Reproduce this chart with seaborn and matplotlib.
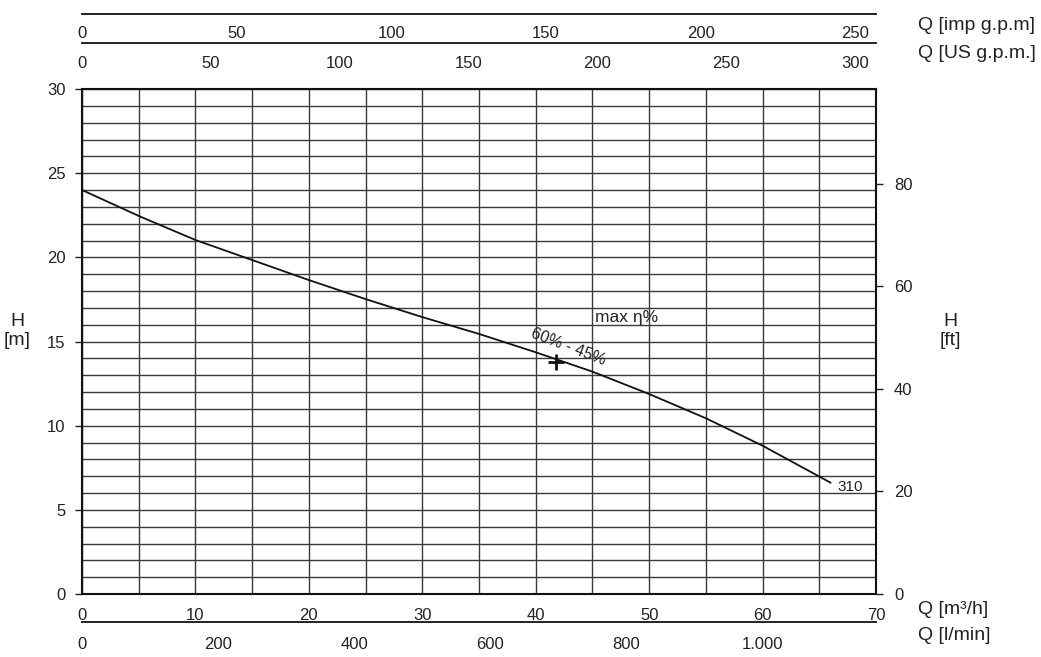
import numpy as np
import pandas as pd
import matplotlib
matplotlib.use("Agg")
import matplotlib.pyplot as plt
import seaborn as sns
from matplotlib.ticker import MultipleLocator, FuncFormatter

# Curva H-Q
q_m3h = [0, 5, 10, 15, 20, 25, 30, 35, 40, 45, 50, 55, 60, 66]
h_m = [24.0, 22.46, 21.03, 19.84, 18.65, 17.52, 16.45, 15.45, 14.36, 13.21, 11.88, 10.44, 8.81, 6.61]

# Punto de maximo rendimiento
bep_q = 41.8
bep_h = 13.8

# Conversiones
M3H_A_IMP = 3.6662
M3H_A_US = 4.4029
M3H_A_LMIN = 16.6667
M_A_FT = 3.2808

ticks_imp = [0, 50, 100, 150, 200, 250]
ticks_us = [0, 50, 100, 150, 200, 250, 300]
ticks_lmin = [0, 200, 400, 600, 800, 1000]
ticks_ft = [0, 20, 40, 60, 80]

df = pd.DataFrame({"Q": q_m3h, "H": h_m})

sns.set_style("white")
plt.rcParams["font.family"] = ["Liberation Sans", "DejaVu Sans"]
plt.rcParams["text.color"] = "#222222"
plt.rcParams["xtick.color"] = "#222222"
plt.rcParams["ytick.color"] = "#222222"

W, H = 1041, 657
fig = plt.figure(figsize=(W / 100, H / 100), dpi=100)

x0, x1 = 82, 876
y0, y1 = 89, 594
ax = fig.add_axes([x0 / W, 1 - y1 / H, (x1 - x0) / W, (y1 - y0) / H])

sns.lineplot(data=df, x="Q", y="H", ax=ax, color="#111111", linewidth=1.3)
ax.plot(bep_q, bep_h, marker="+", color="#111111", markersize=11, markeredgewidth=2)

ax.set_xlim(0, 70)
ax.set_ylim(0, 30)
ax.xaxis.set_major_locator(MultipleLocator(10))
ax.xaxis.set_minor_locator(MultipleLocator(5))
ax.yaxis.set_major_locator(MultipleLocator(5))
ax.yaxis.set_minor_locator(MultipleLocator(1))
ax.grid(True, which="both", color="#3a3a3a", linewidth=1.0)
ax.tick_params(which="minor", length=0)
ax.tick_params(which="major", direction="out", length=5, width=1, labelsize=12, pad=7)
ax.tick_params(axis="x", which="major", pad=5)
ax.set_xlabel("")
ax.set_ylabel("")
for s in ax.spines.values():
    s.set_color("#111111")
    s.set_linewidth(1.5)

# Eje derecho en pies
ax_ft = ax.twinx()
ax_ft.set_ylim(0, 30 * M_A_FT)
ax_ft.set_yticks(ticks_ft)
ax_ft.tick_params(direction="out", length=5, width=1, labelsize=12, pad=8)
for s in ax_ft.spines.values():
    s.set_visible(False)

# Ejes auxiliares de caudal
def eje_aux(y_px, xmax, ticks, fmt=None, pad=4):
    a = fig.add_axes([x0 / W, 1 - y_px / H, (x1 - x0) / W, 0.001])
    a.patch.set_visible(False)
    for k in ["top", "left", "right"]:
        a.spines[k].set_visible(False)
    a.spines["bottom"].set_color("#111111")
    a.spines["bottom"].set_linewidth(1.3)
    a.set_xlim(0, xmax)
    a.set_xticks(ticks)
    a.set_yticks([])
    a.tick_params(axis="x", direction="out", length=5, width=1, labelsize=12, pad=pad)
    if fmt is not None:
        a.xaxis.set_major_formatter(FuncFormatter(fmt))
    return a

eje_aux(14, 70 * M3H_A_IMP, ticks_imp, pad=3.5)
eje_aux(43, 70 * M3H_A_US, ticks_us, pad=4)
eje_aux(622, 70 * M3H_A_LMIN, ticks_lmin,
        lambda v, p: f"{int(v):,}".replace(",", "."), pad=6)

# Textos
ax.text(45.2, 16.45, "max η%", fontsize=12.5, va="center", ha="left")
ax.text(42.9, 14.65, "60% - 45%", fontsize=11.5, va="center", ha="center", rotation=-21)
ax.text(66.6, 6.35, "310", fontsize=11, va="center", ha="left")

fs = 14
fig.text(17 / W, 1 - 331 / H, "H\n[m]", fontsize=fs, ha="center", va="center", linespacing=1.15)
fig.text(950 / W, 1 - 331 / H, "H\n[ft]", fontsize=fs, ha="center", va="center", linespacing=1.15)
fig.text(918 / W, 1 - 25 / H, "Q [imp g.p.m]", fontsize=fs, ha="left", va="center")
fig.text(918 / W, 1 - 53 / H, "Q [US g.p.m.]", fontsize=fs, ha="left", va="center")
fig.text(918 / W, 1 - 609 / H, "Q [m³/h]", fontsize=fs, ha="left", va="center")
fig.text(918 / W, 1 - 636 / H, "Q [l/min]", fontsize=fs, ha="left", va="center")

fig.savefig("out.png", dpi=100)
